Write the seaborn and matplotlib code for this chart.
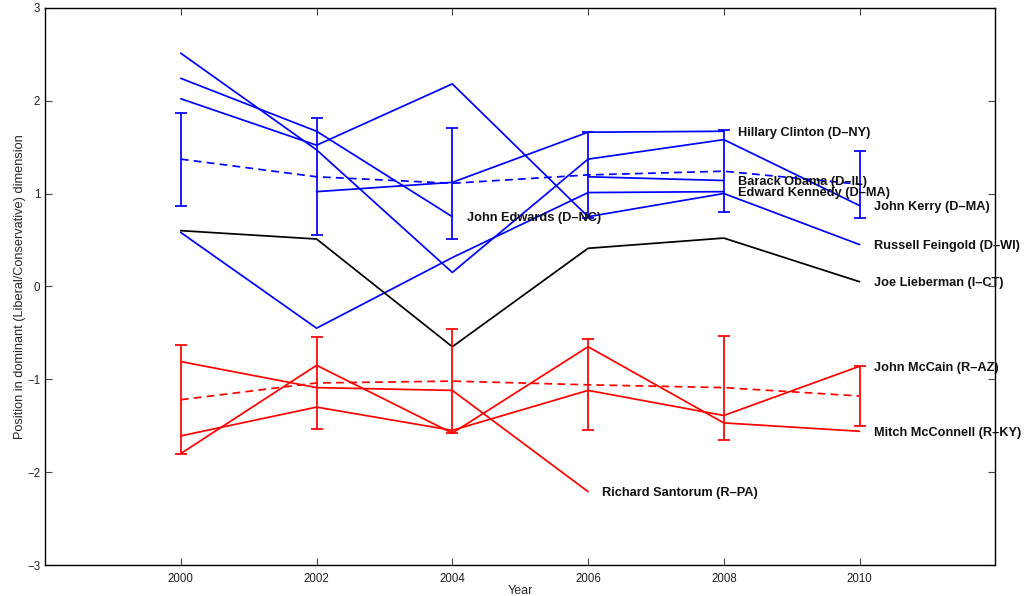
import numpy as np
import pandas as pd
import matplotlib
matplotlib.use("Agg")
import matplotlib.pyplot as plt
import seaborn as sns

years = [2000, 2002, 2004, 2006, 2008, 2010]

# Positions of individual senators (NaN where not in office)
nan = np.nan
kerry = [2.51, 1.47, 0.15, 1.37, 1.58, 0.87]
edwards = [2.24, 1.67, 0.75, nan, nan, nan]
feingold = [2.02, 1.52, 2.18, 0.75, 1.00, 0.45]
kennedy = [0.58, -0.45, 0.31, 1.01, 1.02, nan]
clinton = [nan, 1.02, 1.12, 1.66, 1.67, nan]
obama = [nan, nan, nan, 1.18, 1.14, nan]
lieberman = [0.60, 0.51, -0.65, 0.41, 0.52, 0.05]
santorum = [-0.81, -1.09, -1.12, -2.21, nan, nan]
mccain = [-1.61, -1.30, -1.55, -1.12, -1.39, -0.86]
mcconnell = [-1.80, -0.85, -1.58, -0.65, -1.47, -1.56]

# Party means and spread
dem_mean = [1.37, 1.18, 1.11, 1.20, 1.24, 1.10]
dem_err = [0.50, 0.63, 0.60, 0.46, 0.44, 0.36]
rep_mean = [-1.22, -1.04, -1.02, -1.06, -1.09, -1.18]
rep_err = [0.59, 0.50, 0.56, 0.49, 0.56, 0.32]

senators = [
    ("John Kerry (D\u2013MA)", kerry, "blue"),
    ("John Edwards (D\u2013NC)", edwards, "blue"),
    ("Russell Feingold (D\u2013WI)", feingold, "blue"),
    ("Edward Kennedy (D\u2013MA)", kennedy, "blue"),
    ("Hillary Clinton (D\u2013NY)", clinton, "blue"),
    ("Barack Obama (D\u2013IL)", obama, "blue"),
    ("Joe Lieberman (I\u2013CT)", lieberman, "black"),
    ("Richard Santorum (R\u2013PA)", santorum, "red"),
    ("John McCain (R\u2013AZ)", mccain, "red"),
    ("Mitch McConnell (R\u2013KY)", mcconnell, "red"),
]

sns.set_style("ticks")
plt.rcParams["font.family"] = ["Liberation Sans", "DejaVu Sans"]

rows = []
for name, vals, _ in senators:
    for y, v in zip(years, vals):
        if not np.isnan(v):
            rows.append({"senator": name, "year": y, "pos": v})
df = pd.DataFrame(rows)
palette = {name: col for name, _, col in senators}

fig = plt.figure(figsize=(10.24, 5.96), dpi=100)
ax = fig.add_axes([0.044, 0.052, 0.928, 0.935])

sns.lineplot(data=df, x="year", y="pos", hue="senator", palette=palette,
             estimator=None, linewidth=1.25, legend=False, ax=ax)

means = pd.DataFrame({"year": years * 2,
                      "pos": dem_mean + rep_mean,
                      "party": ["D"] * len(years) + ["R"] * len(years)})
sns.lineplot(data=means, x="year", y="pos", hue="party",
             palette={"D": "blue", "R": "red"}, dashes=False,
             linewidth=1.25, estimator=None, legend=False, ax=ax)
for ln in ax.lines[-2:]:
    ln.set_dashes([4.5, 3])

ax.errorbar(years, dem_mean, yerr=dem_err, fmt="none", ecolor="blue",
            elinewidth=1.25, capsize=4.5, capthick=1.25)
ax.errorbar(years, rep_mean, yerr=rep_err, fmt="none", ecolor="red",
            elinewidth=1.25, capsize=4.5, capthick=1.25)

# Name labels at each senator's last point
for name, vals, _ in senators:
    idx = max(i for i, v in enumerate(vals) if not np.isnan(v))
    ax.text(years[idx] + 0.21, vals[idx], name, fontsize=9.2,
            fontweight="bold", va="center_baseline", ha="left",
            color="#111111")

ax.set_xlim(1998, 2012)
ax.set_ylim(-3, 3)
ax.set_xticks(years)
ax.set_yticks(range(-3, 4))
ax.tick_params(direction="in", length=5, width=0.8, labelsize=8.3,
               top=True, right=True, colors="#444444", labelcolor="#222222")
ax.tick_params(axis="x", pad=6)
for s in ax.spines.values():
    s.set_visible(True)
    s.set_linewidth(1.0)
    s.set_color("black")
ax.set_xlabel("Year", fontsize=9, labelpad=0)
ax.set_ylabel("Position in dominant (Liberal/Conservative) dimension",
              fontsize=9.2, labelpad=1)

fig.savefig("out.png", dpi=100)
